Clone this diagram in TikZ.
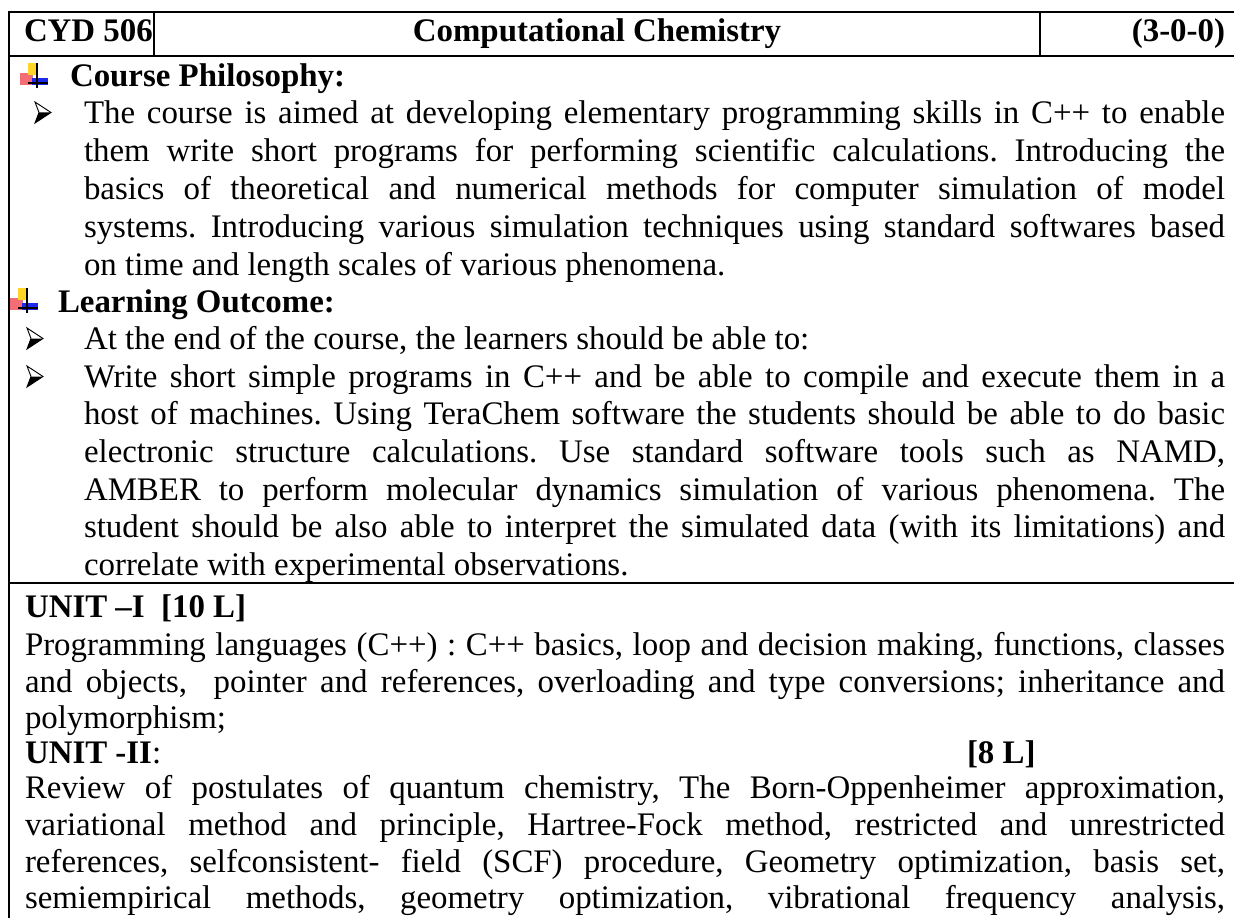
\documentclass[tikz,border=0pt]{standalone}
\usepackage{fontspec}
\setmainfont{Liberation Serif}
\definecolor{icYellow}{RGB}{255,214,40}
\definecolor{icRed}{RGB}{238,60,70}
\definecolor{icBlue}{RGB}{30,40,235}
\newcommand\jline[5]{\node[txt] (#1) at (#2,#3) {\makebox[#4][s]{#5}};}
\newcommand\plusicon[2]{%
  \begin{scope}[shift={(#1,#2)}]
    \fill[icRed,opacity=0.75] (0,10) rectangle (13,22);
    \fill[icYellow] (8,0) rectangle (17,12);
    \fill[icBlue] (12,15) rectangle (28,22);
    \draw[line width=0.55pt] (17,0) -- (17,25);
    \draw[line width=0.55pt] (8,20) -- (28,20);
  \end{scope}}
\newcommand\arrowbullet[2]{%
  \begin{scope}[shift={(#1,#2)}]
    \fill (0,21) -- (16,10.5) -- (4,10.5) -- cycle;
    \draw[line width=0.35pt,line join=miter] (0,0) -- (16,10.5) -- (0,21) -- (4,10.5) -- cycle;
  \end{scope}}
\begin{document}
\frenchspacing
\begin{tikzpicture}[x=0.38pt,y=-0.38pt,
  txt/.style={anchor=base west,inner sep=0pt,outer sep=0pt,font=\fontsize{12.5}{15}\selectfont\frenchspacing},
  bld/.style={txt,font=\fontsize{12.5}{15}\selectfont\bfseries\frenchspacing},
  rule/.style={line width=0.8pt}]
\useasboundingbox (0,0) rectangle (1234,918);
% table rules
\draw[rule] (9,11) -- (9,918);
\draw[rule] (9,12) -- (1234,12);
\draw[rule] (9,56) -- (1234,56);
\draw[rule] (154,12) -- (154,56);
\draw[rule] (1040,12) -- (1040,56);
\draw[rule] (9,583) -- (1234,583);
% header
\node[bld] (code) at (24,42) {CYD 506};
\node[bld,anchor=base] (title) at (597,42) {Computational Chemistry};
\node[bld,anchor=base east] (credits) at (1225,42) {(3-0-0)};
% course philosophy
\plusicon{20}{63}
\node[bld] (cph) at (70,87) {Course Philosophy:};
\arrowbullet{35}{102}
\jline{p1}{84}{123}{433.6pt}{The course is aimed at developing elementary programming skills in C++ to enable}
\jline{p2}{84}{161}{433.6pt}{them write short programs for performing scientific calculations. Introducing the}
\jline{p3}{84}{199}{433.6pt}{basics of theoretical and numerical methods for computer simulation of model}
\jline{p4}{84}{237}{433.6pt}{systems. Introducing various simulation techniques using standard softwares based}
\node[txt] (p5) at (84,275) {on time and length scales of various phenomena.};
% learning outcome
\plusicon{10}{288}
\node[bld] (lo) at (58,312) {Learning Outcome:};
\arrowbullet{27}{328}
\node[txt] (o1) at (84,349) {At the end of the course, the learners should be able to:};
\arrowbullet{27}{366}
\jline{o2}{84}{387}{433.6pt}{Write short simple programs in C++ and be able to compile and execute them in a}
\jline{o3}{84}{424}{433.6pt}{host of machines. Using TeraChem software the students should be able to do basic}
\jline{o4}{84}{462}{433.6pt}{electronic structure calculations. Use standard software tools such as NAMD,}
\jline{o5}{84}{500}{433.6pt}{AMBER to perform molecular dynamics simulation of various phenomena. The}
\jline{o6}{84}{537}{433.6pt}{student should be also able to interpret the simulated data (with its limitations) and}
\node[txt] (o7) at (84,575) {correlate with experimental observations.};
% unit I
\node[bld] (u1) at (25,617) {UNIT –I\ \ [10 L]};
\jline{a1}{25}{655}{456pt}{Programming languages (C++) : C++ basics, loop and decision making, functions, classes}
\jline{a2}{25}{692}{456pt}{and objects,\ \ pointer and references, overloading and type conversions; inheritance and}
\node[txt] (a3) at (25,728) {polymorphism;};
% unit II
\node[txt] (u2) at (25,763) {\textbf{UNIT -II}:};
\node[bld] (u2l) at (967,763) {[8 L]};
\jline{b1}{25}{798}{456pt}{Review of postulates of quantum chemistry, The Born-Oppenheimer approximation,}
\jline{b2}{25}{835}{456pt}{variational method and principle, Hartree-Fock method, restricted and unrestricted}
\jline{b3}{25}{872}{456pt}{references, selfconsistent- field (SCF) procedure, Geometry optimization, basis set,}
\jline{b4}{25}{908}{456pt}{semiempirical methods, geometry optimization, vibrational frequency analysis,}
\end{tikzpicture}
\end{document}
